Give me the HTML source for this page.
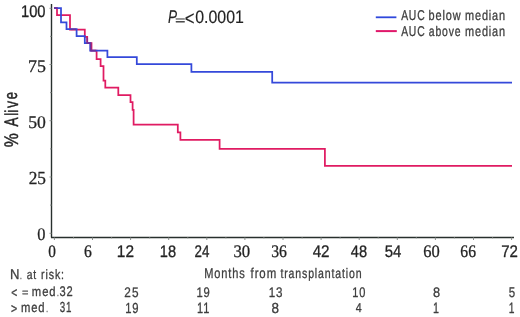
<!DOCTYPE html>
<html><head><meta charset="utf-8"><style>
html,body{margin:0;padding:0;background:#fff;}
svg{display:block;}
</style></head><body>
<svg width="520" height="317" viewBox="0 0 520 317">
<rect width="520" height="317" fill="#ffffff"/>
<g stroke="#28302d" fill="none">
<line x1="51.5" y1="4" x2="51.5" y2="237.5" stroke-width="1.4"/>
<line x1="51" y1="237.5" x2="514" y2="237.5" stroke-width="1.4"/>
<g stroke-width="1" stroke="#8a8f8d">
<line x1="49.5" y1="8.3" x2="51.5" y2="8.3"/>
<line x1="49.5" y1="64.5" x2="51.5" y2="64.5"/>
<line x1="49.5" y1="120.7" x2="51.5" y2="120.7"/>
<line x1="49.5" y1="177.0" x2="51.5" y2="177.0"/>
<line x1="49.5" y1="233.3" x2="51.5" y2="233.3"/>
<line x1="50" y1="36.4" x2="51.5" y2="36.4"/>
<line x1="50" y1="92.6" x2="51.5" y2="92.6"/>
<line x1="50" y1="148.9" x2="51.5" y2="148.9"/>
<line x1="50" y1="205.1" x2="51.5" y2="205.1"/>
<line x1="54.4" y1="237.5" x2="54.4" y2="240"/>
<line x1="92.5" y1="237.5" x2="92.5" y2="240"/>
<line x1="130.6" y1="237.5" x2="130.6" y2="240"/>
<line x1="168.7" y1="237.5" x2="168.7" y2="240"/>
<line x1="206.8" y1="237.5" x2="206.8" y2="240"/>
<line x1="244.9" y1="237.5" x2="244.9" y2="240"/>
<line x1="283.0" y1="237.5" x2="283.0" y2="240"/>
<line x1="321.1" y1="237.5" x2="321.1" y2="240"/>
<line x1="359.2" y1="237.5" x2="359.2" y2="240"/>
<line x1="397.3" y1="237.5" x2="397.3" y2="240"/>
<line x1="435.4" y1="237.5" x2="435.4" y2="240"/>
<line x1="473.5" y1="237.5" x2="473.5" y2="240"/>
<line x1="511.6" y1="237.5" x2="511.6" y2="240"/>
<line x1="73.5" y1="237.5" x2="73.5" y2="239" stroke="#b0b4b2"/>
<line x1="111.6" y1="237.5" x2="111.6" y2="239" stroke="#b0b4b2"/>
<line x1="149.7" y1="237.5" x2="149.7" y2="239" stroke="#b0b4b2"/>
<line x1="187.8" y1="237.5" x2="187.8" y2="239" stroke="#b0b4b2"/>
<line x1="225.9" y1="237.5" x2="225.9" y2="239" stroke="#b0b4b2"/>
<line x1="263.9" y1="237.5" x2="263.9" y2="239" stroke="#b0b4b2"/>
<line x1="302.1" y1="237.5" x2="302.1" y2="239" stroke="#b0b4b2"/>
<line x1="340.1" y1="237.5" x2="340.1" y2="239" stroke="#b0b4b2"/>
<line x1="378.2" y1="237.5" x2="378.2" y2="239" stroke="#b0b4b2"/>
<line x1="416.3" y1="237.5" x2="416.3" y2="239" stroke="#b0b4b2"/>
<line x1="454.4" y1="237.5" x2="454.4" y2="239" stroke="#b0b4b2"/>
<line x1="492.6" y1="237.5" x2="492.6" y2="239" stroke="#b0b4b2"/>
</g>
</g>
<path d="M54 8 H57 V15.2 H70 V29.5 H84.8 V36.8 H87.2 V43.2 H91.5 V50.5 H96.6 V59 H100.6 V66.2 H103.5 V80.7 H105.3 V87.5 H118.3 V95 H130.5 V102.2 H132.6 V109.8 H133.6 V124.7 H177.8 V132.3 H180.4 V139.9 H219.6 V148.9 H324.9 V165.9 H512" fill="none" stroke="#e01b62" stroke-width="1.75" stroke-linejoin="miter"/>
<path d="M54 8 H61 V22.4 H66.5 V29.2 H76.6 V36 H84.8 V43 H90.2 V50.5 H107.4 V57.2 H136.8 V64.1 H191.4 V71.8 H272.2 V82.6 H512" fill="none" stroke="#3549da" stroke-width="1.75" stroke-linejoin="miter"/>
<g fill="none" stroke="#7a2c8c" stroke-width="1.75" opacity="0.75">
<path d="M54 8 H57.5"/>
<path d="M70.5 29.35 H76"/>
<path d="M87.2 37.5 V43.1 H90.8 V50.5 H96"/>
</g>
<line x1="375.8" y1="17.3" x2="396.4" y2="17.3" stroke="#2f48dc" stroke-width="1.8"/>
<line x1="375.8" y1="31.1" x2="396.8" y2="31.1" stroke="#e0186a" stroke-width="2"/>
<g style="filter:grayscale(1)">
<text transform="translate(20.97 16.78) scale(0.14710 0.16901)" font-family="Liberation Sans, sans-serif" font-style="normal" font-size="100" text-rendering="geometricPrecision" fill="#1e2422" stroke="#1e2422" stroke-width="1.90" stroke-linejoin="round" letter-spacing="0" xml:space="preserve">100</text>
<text transform="translate(28.10 72.37) scale(0.17865 0.17576)" font-family="Liberation Serif, serif" font-style="normal" font-size="100" text-rendering="geometricPrecision" fill="#1e2422" stroke="#1e2422" stroke-width="1.69" stroke-linejoin="round" letter-spacing="0" xml:space="preserve">75</text>
<text transform="translate(28.29 128.47) scale(0.17667 0.17910)" font-family="Liberation Serif, serif" font-style="normal" font-size="100" text-rendering="geometricPrecision" fill="#1e2422" stroke="#1e2422" stroke-width="1.69" stroke-linejoin="round" letter-spacing="0" xml:space="preserve">50</text>
<text transform="translate(28.66 184.47) scale(0.17283 0.18358)" font-family="Liberation Serif, serif" font-style="normal" font-size="100" text-rendering="geometricPrecision" fill="#1e2422" stroke="#1e2422" stroke-width="1.68" stroke-linejoin="round" letter-spacing="0" xml:space="preserve">25</text>
<text transform="translate(37.29 240.17) scale(0.16429 0.17910)" font-family="Liberation Serif, serif" font-style="normal" font-size="100" text-rendering="geometricPrecision" fill="#1e2422" stroke="#1e2422" stroke-width="1.75" stroke-linejoin="round" letter-spacing="0" xml:space="preserve">0</text>
<text transform="translate(48.34 256.97) scale(0.15238 0.17612)" font-family="Liberation Serif, serif" font-style="normal" font-size="100" text-rendering="geometricPrecision" fill="#1e2422" stroke="#1e2422" stroke-width="1.83" stroke-linejoin="round" letter-spacing="0" xml:space="preserve">0</text>
<text transform="translate(84.03 256.97) scale(0.15581 0.17612)" font-family="Liberation Serif, serif" font-style="normal" font-size="100" text-rendering="geometricPrecision" fill="#1e2422" stroke="#1e2422" stroke-width="1.81" stroke-linejoin="round" letter-spacing="0" xml:space="preserve">6</text>
<text transform="translate(116.82 257.15) scale(0.15408 0.16857)" font-family="Liberation Sans, sans-serif" font-style="normal" font-size="100" text-rendering="geometricPrecision" fill="#1e2422" stroke="#1e2422" stroke-width="1.86" stroke-linejoin="round" letter-spacing="0" xml:space="preserve">12</text>
<text transform="translate(159.78 256.98) scale(0.14646 0.16620)" font-family="Liberation Sans, sans-serif" font-style="normal" font-size="100" text-rendering="geometricPrecision" fill="#1e2422" stroke="#1e2422" stroke-width="1.92" stroke-linejoin="round" letter-spacing="0" xml:space="preserve">18</text>
<text transform="translate(194.58 257.15) scale(0.13398 0.16857)" font-family="Liberation Sans, sans-serif" font-style="normal" font-size="100" text-rendering="geometricPrecision" fill="#1e2422" stroke="#1e2422" stroke-width="1.98" stroke-linejoin="round" letter-spacing="0" xml:space="preserve">24</text>
<text transform="translate(233.41 256.97) scale(0.16703 0.17612)" font-family="Liberation Serif, serif" font-style="normal" font-size="100" text-rendering="geometricPrecision" fill="#1e2422" stroke="#1e2422" stroke-width="1.75" stroke-linejoin="round" letter-spacing="0" xml:space="preserve">30</text>
<text transform="translate(271.16 256.97) scale(0.15761 0.17612)" font-family="Liberation Serif, serif" font-style="normal" font-size="100" text-rendering="geometricPrecision" fill="#1e2422" stroke="#1e2422" stroke-width="1.80" stroke-linejoin="round" letter-spacing="0" xml:space="preserve">36</text>
<text transform="translate(312.65 257.15) scale(0.15192 0.16857)" font-family="Liberation Sans, sans-serif" font-style="normal" font-size="100" text-rendering="geometricPrecision" fill="#1e2422" stroke="#1e2422" stroke-width="1.87" stroke-linejoin="round" letter-spacing="0" xml:space="preserve">42</text>
<text transform="translate(350.76 256.98) scale(0.14667 0.16620)" font-family="Liberation Sans, sans-serif" font-style="normal" font-size="100" text-rendering="geometricPrecision" fill="#1e2422" stroke="#1e2422" stroke-width="1.92" stroke-linejoin="round" letter-spacing="0" xml:space="preserve">48</text>
<text transform="translate(384.65 256.98) scale(0.14904 0.16857)" font-family="Liberation Sans, sans-serif" font-style="normal" font-size="100" text-rendering="geometricPrecision" fill="#1e2422" stroke="#1e2422" stroke-width="1.89" stroke-linejoin="round" letter-spacing="0" xml:space="preserve">54</text>
<text transform="translate(423.19 256.97) scale(0.16522 0.17612)" font-family="Liberation Serif, serif" font-style="normal" font-size="100" text-rendering="geometricPrecision" fill="#1e2422" stroke="#1e2422" stroke-width="1.76" stroke-linejoin="round" letter-spacing="0" xml:space="preserve">60</text>
<text transform="translate(460.33 256.97) scale(0.15591 0.17612)" font-family="Liberation Serif, serif" font-style="normal" font-size="100" text-rendering="geometricPrecision" fill="#1e2422" stroke="#1e2422" stroke-width="1.81" stroke-linejoin="round" letter-spacing="0" xml:space="preserve">66</text>
<text transform="translate(501.20 257.15) scale(0.15050 0.16857)" font-family="Liberation Sans, sans-serif" font-style="normal" font-size="100" text-rendering="geometricPrecision" fill="#1e2422" stroke="#1e2422" stroke-width="1.88" stroke-linejoin="round" letter-spacing="0" xml:space="preserve">72</text>
<text transform="translate(167.97 23.42) scale(0.13571 0.18478)" font-family="Liberation Sans, sans-serif" font-style="italic" font-size="100" text-rendering="geometricPrecision" fill="#1f2322" stroke="#1f2322" stroke-width="0.94" stroke-linejoin="round" letter-spacing="0" xml:space="preserve">P</text>
<text transform="translate(174.97 23.51) scale(0.18021 0.11094)" font-family="Liberation Sans, sans-serif" font-style="normal" font-size="100" text-rendering="geometricPrecision" fill="#1f2322" stroke="#1f2322" stroke-width="1.03" stroke-linejoin="round" letter-spacing="0" xml:space="preserve">=</text>
<text transform="translate(184.73 24.63) scale(0.16837 0.20100)" font-family="Liberation Sans, sans-serif" font-style="normal" font-size="100" text-rendering="geometricPrecision" fill="#1f2322" stroke="#1f2322" stroke-width="0.81" stroke-linejoin="round" letter-spacing="0" xml:space="preserve">&lt;</text>
<text transform="translate(195.14 23.24) scale(0.15943 0.18099)" font-family="Liberation Sans, sans-serif" font-style="normal" font-size="100" text-rendering="geometricPrecision" fill="#1f2322" stroke="#1f2322" stroke-width="0.88" stroke-linejoin="round" letter-spacing="0" xml:space="preserve">0.0001</text>
<text transform="translate(401.14 20.32) scale(0.10323 0.14113)" font-family="Liberation Sans, sans-serif" font-style="normal" font-size="100" text-rendering="geometricPrecision" fill="#3e3e3e" stroke="#3e3e3e" stroke-width="2.29" stroke-linejoin="round" letter-spacing="8" xml:space="preserve">AUC</text>
<text transform="translate(428.59 20.32) scale(0.10913 0.14000)" font-family="Liberation Sans, sans-serif" font-style="normal" font-size="100" text-rendering="geometricPrecision" fill="#3e3e3e" stroke="#3e3e3e" stroke-width="2.25" stroke-linejoin="round" letter-spacing="8" xml:space="preserve">below</text>
<text transform="translate(464.98 20.32) scale(0.10910 0.13863)" font-family="Liberation Sans, sans-serif" font-style="normal" font-size="100" text-rendering="geometricPrecision" fill="#3e3e3e" stroke="#3e3e3e" stroke-width="2.26" stroke-linejoin="round" letter-spacing="8" xml:space="preserve">median</text>
<text transform="translate(401.14 36.22) scale(0.10323 0.14113)" font-family="Liberation Sans, sans-serif" font-style="normal" font-size="100" text-rendering="geometricPrecision" fill="#3e3e3e" stroke="#3e3e3e" stroke-width="2.29" stroke-linejoin="round" letter-spacing="8" xml:space="preserve">AUC</text>
<text transform="translate(428.82 36.22) scale(0.10412 0.14000)" font-family="Liberation Sans, sans-serif" font-style="normal" font-size="100" text-rendering="geometricPrecision" fill="#3e3e3e" stroke="#3e3e3e" stroke-width="2.29" stroke-linejoin="round" letter-spacing="8" xml:space="preserve">above</text>
<text transform="translate(464.98 36.22) scale(0.10910 0.14000)" font-family="Liberation Sans, sans-serif" font-style="normal" font-size="100" text-rendering="geometricPrecision" fill="#3e3e3e" stroke="#3e3e3e" stroke-width="2.25" stroke-linejoin="round" letter-spacing="8" xml:space="preserve">median</text>
<text transform="translate(204.26 277.92) scale(0.11017 0.14274)" font-family="Liberation Sans, sans-serif" font-style="normal" font-size="100" text-rendering="geometricPrecision" fill="#3e3e3e" stroke="#3e3e3e" stroke-width="2.21" stroke-linejoin="round" letter-spacing="8" xml:space="preserve">Months</text>
<text transform="translate(250.53 277.92) scale(0.11444 0.14274)" font-family="Liberation Sans, sans-serif" font-style="normal" font-size="100" text-rendering="geometricPrecision" fill="#3e3e3e" stroke="#3e3e3e" stroke-width="2.18" stroke-linejoin="round" letter-spacing="8" xml:space="preserve">from</text>
<text transform="translate(280.43 277.57) scale(0.10568 0.13785)" font-family="Liberation Sans, sans-serif" font-style="normal" font-size="100" text-rendering="geometricPrecision" fill="#3e3e3e" stroke="#3e3e3e" stroke-width="2.30" stroke-linejoin="round" letter-spacing="8" xml:space="preserve">transplantation</text>
<text transform="translate(9.89 279.46) scale(0.13071 0.14377)" font-family="Liberation Sans, sans-serif" font-style="normal" font-size="100" text-rendering="geometricPrecision" fill="#3e3e3e" stroke="#3e3e3e" stroke-width="2.04" stroke-linejoin="round" letter-spacing="8" xml:space="preserve">N</text>
<text transform="translate(19.13 279.46) scale(0.11200 0.10182)" font-family="Liberation Sans, sans-serif" font-style="normal" font-size="100" text-rendering="geometricPrecision" fill="#8c8c8c" stroke="#8c8c8c" stroke-width="2.62" stroke-linejoin="round" letter-spacing="0" xml:space="preserve">.</text>
<text transform="translate(26.63 279.33) scale(0.10368 0.13212)" font-family="Liberation Sans, sans-serif" font-style="normal" font-size="100" text-rendering="geometricPrecision" fill="#3e3e3e" stroke="#3e3e3e" stroke-width="2.37" stroke-linejoin="round" letter-spacing="8" xml:space="preserve">at</text>
<text transform="translate(41.09 279.33) scale(0.10663 0.13452)" font-family="Liberation Sans, sans-serif" font-style="normal" font-size="100" text-rendering="geometricPrecision" fill="#3e3e3e" stroke="#3e3e3e" stroke-width="2.32" stroke-linejoin="round" letter-spacing="8" xml:space="preserve">risk:</text>
<text transform="translate(11.13 296.72) scale(0.10245 0.13240)" font-family="Liberation Sans, sans-serif" font-style="normal" font-size="100" text-rendering="geometricPrecision" fill="#3e3e3e" stroke="#3e3e3e" stroke-width="2.38" stroke-linejoin="round" letter-spacing="8" xml:space="preserve">&lt;</text>
<text transform="translate(21.89 296.38) scale(0.11083 0.10687)" font-family="Liberation Sans, sans-serif" font-style="normal" font-size="100" text-rendering="geometricPrecision" fill="#3e3e3e" stroke="#3e3e3e" stroke-width="2.57" stroke-linejoin="round" letter-spacing="8" xml:space="preserve">=</text>
<text transform="translate(31.85 296.33) scale(0.11279 0.13315)" font-family="Liberation Sans, sans-serif" font-style="normal" font-size="100" text-rendering="geometricPrecision" fill="#3e3e3e" stroke="#3e3e3e" stroke-width="2.28" stroke-linejoin="round" letter-spacing="8" xml:space="preserve">med</text>
<text transform="translate(56.23 296.46) scale(0.11200 0.10182)" font-family="Liberation Sans, sans-serif" font-style="normal" font-size="100" text-rendering="geometricPrecision" fill="#8c8c8c" stroke="#8c8c8c" stroke-width="2.62" stroke-linejoin="round" letter-spacing="0" xml:space="preserve">.</text>
<text transform="translate(59.50 296.32) scale(0.11109 0.13972)" font-family="Liberation Sans, sans-serif" font-style="normal" font-size="100" text-rendering="geometricPrecision" fill="#3e3e3e" stroke="#3e3e3e" stroke-width="2.23" stroke-linejoin="round" letter-spacing="8" xml:space="preserve">32</text>
<text transform="translate(10.91 312.72) scale(0.10653 0.13240)" font-family="Liberation Sans, sans-serif" font-style="normal" font-size="100" text-rendering="geometricPrecision" fill="#3e3e3e" stroke="#3e3e3e" stroke-width="2.34" stroke-linejoin="round" letter-spacing="8" xml:space="preserve">&gt;</text>
<text transform="translate(20.95 311.93) scale(0.11228 0.13452)" font-family="Liberation Sans, sans-serif" font-style="normal" font-size="100" text-rendering="geometricPrecision" fill="#3e3e3e" stroke="#3e3e3e" stroke-width="2.27" stroke-linejoin="round" letter-spacing="8" xml:space="preserve">med</text>
<text transform="translate(45.82 312.06) scale(0.10200 0.10182)" font-family="Liberation Sans, sans-serif" font-style="normal" font-size="100" text-rendering="geometricPrecision" fill="#8c8c8c" stroke="#8c8c8c" stroke-width="2.75" stroke-linejoin="round" letter-spacing="0" xml:space="preserve">.</text>
<text transform="translate(59.85 312.11) scale(0.09745 0.14535)" font-family="Liberation Sans, sans-serif" font-style="normal" font-size="100" text-rendering="geometricPrecision" fill="#3e3e3e" stroke="#3e3e3e" stroke-width="2.31" stroke-linejoin="round" letter-spacing="8" xml:space="preserve">31</text>
<text transform="translate(124.35 296.62) scale(0.11836 0.13831)" font-family="Liberation Sans, sans-serif" font-style="normal" font-size="100" text-rendering="geometricPrecision" fill="#3e3e3e" stroke="#3e3e3e" stroke-width="2.18" stroke-linejoin="round" letter-spacing="8" xml:space="preserve">25</text>
<text transform="translate(196.44 296.62) scale(0.11245 0.13831)" font-family="Liberation Sans, sans-serif" font-style="normal" font-size="100" text-rendering="geometricPrecision" fill="#3e3e3e" stroke="#3e3e3e" stroke-width="2.23" stroke-linejoin="round" letter-spacing="8" xml:space="preserve">19</text>
<text transform="translate(268.71 296.62) scale(0.11607 0.13831)" font-family="Liberation Sans, sans-serif" font-style="normal" font-size="100" text-rendering="geometricPrecision" fill="#3e3e3e" stroke="#3e3e3e" stroke-width="2.20" stroke-linejoin="round" letter-spacing="8" xml:space="preserve">13</text>
<text transform="translate(352.26 296.62) scale(0.11047 0.13831)" font-family="Liberation Sans, sans-serif" font-style="normal" font-size="100" text-rendering="geometricPrecision" fill="#3e3e3e" stroke="#3e3e3e" stroke-width="2.25" stroke-linejoin="round" letter-spacing="8" xml:space="preserve">10</text>
<text transform="translate(432.93 296.62) scale(0.12809 0.13831)" font-family="Liberation Sans, sans-serif" font-style="normal" font-size="100" text-rendering="geometricPrecision" fill="#3e3e3e" stroke="#3e3e3e" stroke-width="2.10" stroke-linejoin="round" letter-spacing="8" xml:space="preserve">8</text>
<text transform="translate(508.68 296.62) scale(0.11532 0.14029)" font-family="Liberation Sans, sans-serif" font-style="normal" font-size="100" text-rendering="geometricPrecision" fill="#3e3e3e" stroke="#3e3e3e" stroke-width="2.19" stroke-linejoin="round" letter-spacing="8" xml:space="preserve">5</text>
<text transform="translate(125.14 312.51) scale(0.11245 0.14535)" font-family="Liberation Sans, sans-serif" font-style="normal" font-size="100" text-rendering="geometricPrecision" fill="#3e3e3e" stroke="#3e3e3e" stroke-width="2.17" stroke-linejoin="round" letter-spacing="8" xml:space="preserve">19</text>
<text transform="translate(197.06 312.66) scale(0.11030 0.14957)" font-family="Liberation Sans, sans-serif" font-style="normal" font-size="100" text-rendering="geometricPrecision" fill="#3e3e3e" stroke="#3e3e3e" stroke-width="2.15" stroke-linejoin="round" letter-spacing="8" xml:space="preserve">11</text>
<text transform="translate(271.60 312.51) scale(0.13447 0.14535)" font-family="Liberation Sans, sans-serif" font-style="normal" font-size="100" text-rendering="geometricPrecision" fill="#3e3e3e" stroke="#3e3e3e" stroke-width="2.00" stroke-linejoin="round" letter-spacing="8" xml:space="preserve">8</text>
<text transform="translate(355.73 312.06) scale(0.10627 0.12928)" font-family="Liberation Sans, sans-serif" font-style="normal" font-size="100" text-rendering="geometricPrecision" fill="#3e3e3e" stroke="#3e3e3e" stroke-width="2.38" stroke-linejoin="round" letter-spacing="8" xml:space="preserve">4</text>
<text transform="translate(432.98 312.66) scale(0.10744 0.14957)" font-family="Liberation Sans, sans-serif" font-style="normal" font-size="100" text-rendering="geometricPrecision" fill="#3e3e3e" stroke="#3e3e3e" stroke-width="2.18" stroke-linejoin="round" letter-spacing="8" xml:space="preserve">1</text>
<text transform="translate(508.72 312.66) scale(0.10279 0.14957)" font-family="Liberation Sans, sans-serif" font-style="normal" font-size="100" text-rendering="geometricPrecision" fill="#3e3e3e" stroke="#3e3e3e" stroke-width="2.22" stroke-linejoin="round" letter-spacing="8" xml:space="preserve">1</text>
<text transform="translate(17.41 99.22) rotate(-90) scale(0.12979 0.18545)" font-family="Liberation Sans, sans-serif" font-style="normal" font-size="100" text-rendering="geometricPrecision" fill="#1e2422" stroke="#1e2422" stroke-width="2.54" stroke-linejoin="round" xml:space="preserve">e</text>
<text transform="translate(17.60 108.04) rotate(-90) scale(0.14375 0.19434)" font-family="Liberation Sans, sans-serif" font-style="normal" font-size="100" text-rendering="geometricPrecision" fill="#1e2422" stroke="#1e2422" stroke-width="2.37" stroke-linejoin="round" xml:space="preserve">v</text>
<text transform="translate(17.60 112.39) rotate(-90) scale(0.11250 0.18750)" font-family="Liberation Sans, sans-serif" font-style="normal" font-size="100" text-rendering="geometricPrecision" fill="#1e2422" stroke="#1e2422" stroke-width="2.67" stroke-linejoin="round" xml:space="preserve">i</text>
<text transform="translate(17.60 115.73) rotate(-90) scale(0.13333 0.18750)" font-family="Liberation Sans, sans-serif" font-style="normal" font-size="100" text-rendering="geometricPrecision" fill="#1e2422" stroke="#1e2422" stroke-width="2.49" stroke-linejoin="round" xml:space="preserve">l</text>
<text transform="translate(17.60 126.60) rotate(-90) scale(0.13636 0.19710)" font-family="Liberation Sans, sans-serif" font-style="normal" font-size="100" text-rendering="geometricPrecision" fill="#1e2422" stroke="#1e2422" stroke-width="2.40" stroke-linejoin="round" xml:space="preserve">A</text>
<text transform="translate(17.60 147.23) rotate(-90) scale(0.15802 0.19710)" font-family="Liberation Sans, sans-serif" font-style="normal" font-size="100" text-rendering="geometricPrecision" fill="#1e2422" stroke="#1e2422" stroke-width="2.25" stroke-linejoin="round" xml:space="preserve">%</text>
</g>
</svg>
</body></html>
